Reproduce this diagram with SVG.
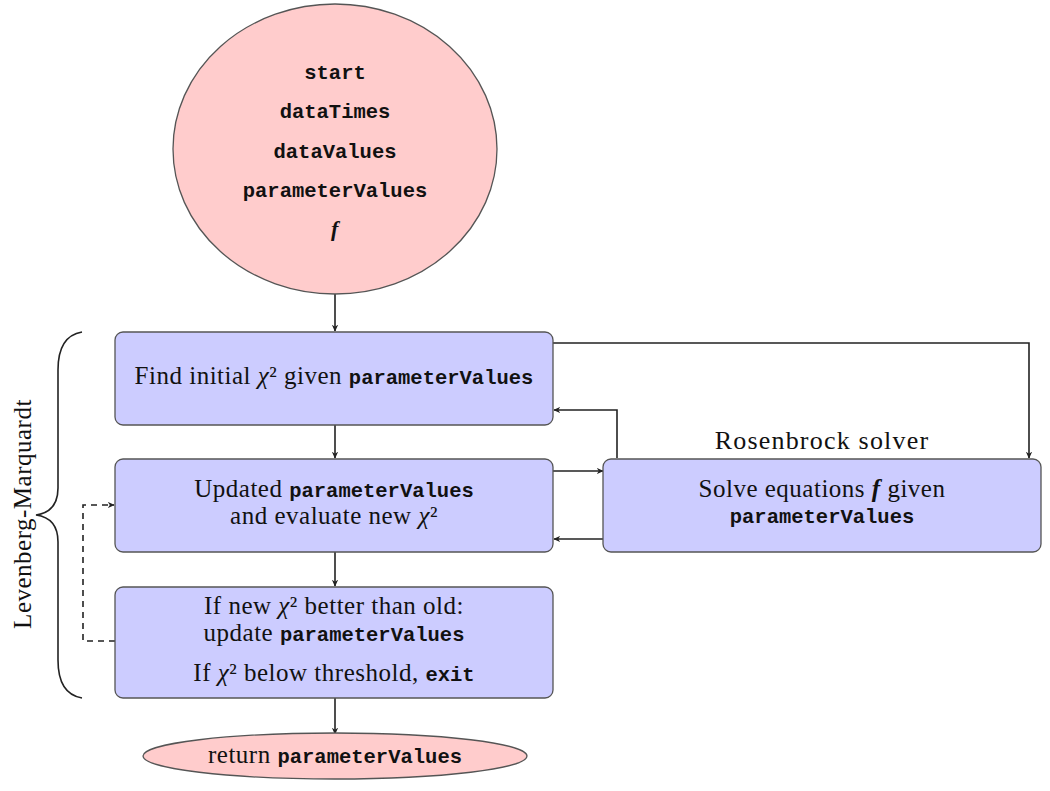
<svg xmlns="http://www.w3.org/2000/svg" width="1050" height="791" viewBox="0 0 1050 791">
<defs>
<style>
.box{fill:#ccccff;stroke:#555;stroke-width:1.3}
.term{fill:#ffcccc;stroke:#555;stroke-width:1.3}
.t{font-family:"Liberation Serif","DejaVu Serif",serif;font-size:25px;letter-spacing:0.5px;fill:#111;text-anchor:middle}
.m{font-family:"Liberation Mono","DejaVu Sans Mono",monospace;font-weight:bold;font-size:20.5px;letter-spacing:0}
.i{font-style:italic}
.c{fill:none;stroke:#222;stroke-width:1.6}
.d{fill:none;stroke:#222;stroke-width:1.6;stroke-dasharray:6 5}
</style>
<marker id="ah" viewBox="0 0 10 10" refX="9" refY="5" markerWidth="7" markerHeight="7" orient="auto" markerUnits="userSpaceOnUse">
<path d="M0,0.5 L10,5 L0,9.5 L3,5 z" fill="#222"/>
</marker>
</defs>
<rect width="1050" height="791" fill="#fff"/>

<g id="connectors">
<line class="c" x1="335" y1="294" x2="335" y2="331" marker-end="url(#ah)"/>
<line class="c" x1="335" y1="425" x2="335" y2="458" marker-end="url(#ah)"/>
<line class="c" x1="335" y1="552" x2="335" y2="586" marker-end="url(#ah)"/>
<line class="c" x1="335" y1="698" x2="335" y2="734" marker-end="url(#ah)"/>
<polyline class="c" points="553,343 1029,343 1029,458" marker-end="url(#ah)"/>
<polyline class="c" points="617,458 617,410 554,410" marker-end="url(#ah)"/>
<line class="c" x1="553" y1="471" x2="603" y2="471" marker-end="url(#ah)"/>
<line class="c" x1="603" y1="539" x2="554" y2="539" marker-end="url(#ah)"/>
<polyline class="d" points="115,641 83,641 83,505 114,505" marker-end="url(#ah)"/>
</g>

<g id="start">
<ellipse class="term" cx="335" cy="149" rx="162" ry="145"/>
<text class="t" x="335" y="79"><tspan class="m">start</tspan></text>
<text class="t" x="335" y="118"><tspan class="m">dataTimes</tspan></text>
<text class="t" x="335" y="158"><tspan class="m">dataValues</tspan></text>
<text class="t" x="335" y="197"><tspan class="m">parameterValues</tspan></text>
<text class="t i" x="335" y="236" style="font-size:22px;font-weight:bold">f</text>
</g>

<g id="find-initial">
<rect class="box" x="115" y="332" width="438" height="93" rx="8"/>
<text class="t" x="334" y="384">Find initial <tspan class="i">χ</tspan>² given <tspan class="m">parameterValues</tspan></text>
</g>

<g id="update">
<rect class="box" x="115" y="459" width="438" height="93" rx="8"/>
<text class="t" x="334" y="497">Updated <tspan class="m">parameterValues</tspan></text>
<text class="t" x="334" y="524">and evaluate new <tspan class="i">χ</tspan>²</text>
</g>

<g id="check">
<rect class="box" x="115" y="587" width="438" height="111" rx="8"/>
<text class="t" x="334" y="614">If new <tspan class="i">χ</tspan>² better than old:</text>
<text class="t" x="334" y="641">update <tspan class="m">parameterValues</tspan></text>
<text class="t" x="334" y="681">If <tspan class="i">χ</tspan>² below threshold, <tspan class="m">exit</tspan></text>
</g>

<g id="return">
<ellipse class="term" cx="335" cy="756" rx="192" ry="23"/>
<text class="t" x="335" y="763">return <tspan class="m">parameterValues</tspan></text>
</g>

<g id="rosenbrock">
<rect class="box" x="603" y="459" width="438" height="93" rx="8"/>
<text class="t" x="822" y="497">Solve equations <tspan class="i" style="font-weight:bold">f</tspan> given</text>
<text class="t" x="822" y="523"><tspan class="m">parameterValues</tspan></text>
<text class="t" x="822" y="449" style="font-size:26px;letter-spacing:1.2px">Rosenbrock solver</text>
</g>

<g id="levenberg-marquardt">
<path class="c" d="M82,332 Q58,336 58,370 L58,488 Q58,512 36,515 Q58,518 58,542 L58,660 Q58,694 82,698"/>
<text class="t" transform="translate(31,514) rotate(-90)">Levenberg-Marquardt</text>
</g>
</svg>
